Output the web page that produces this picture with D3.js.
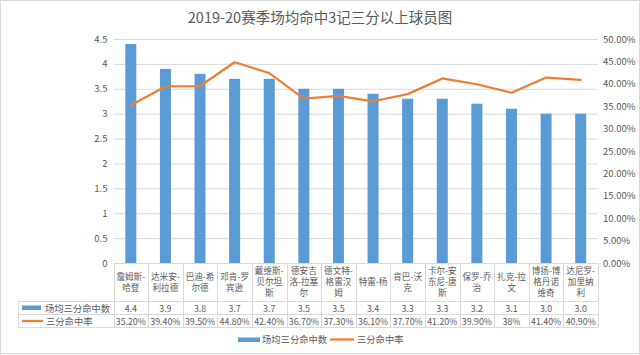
<!DOCTYPE html>
<html><head><meta charset="utf-8">
<script src="https://cdn.jsdelivr.net/npm/d3@7"></script>
<style>
html,body{margin:0;padding:0;background:#fff;}
svg{display:block;font-family:"Noto Sans CJK SC","Noto Sans",sans-serif;}
</style></head>
<body><svg id="c" width="640" height="355"></svg>
<script>
const title = "2019-20赛季场均命中3记三分以上球员图";
const players = ["詹姆斯-哈登","达米安-利拉德","巴迪-希尔德","邓肯-罗宾逊","戴维斯-贝尔坦斯","德安吉洛-拉塞尔","德文特-格雷汉姆","特雷-杨","肯巴-沃克","卡尔-安东尼-唐斯","保罗-乔治","扎克-拉文","博扬-博格丹诺维奇","达尼罗-加里纳利"];
const playerLines = [["詹姆斯-","哈登"],["达米安-","利拉德"],["巴迪-希","尔德"],["邓肯-罗","宾逊"],["戴维斯-","贝尔坦","斯"],["德安吉","洛-拉塞","尔"],["德文特-","格雷汉","姆"],["特雷-杨"],["肯巴-沃","克"],["卡尔-安","东尼-唐","斯"],["保罗-乔","治"],["扎克-拉","文"],["博扬-博","格丹诺","维奇"],["达尼罗-","加里纳","利"]];
const threesMade = [4.4,3.9,3.8,3.7,3.7,3.5,3.5,3.4,3.3,3.3,3.2,3.1,3.0,3.0];
const threePct = [35.2,39.4,39.5,44.8,42.4,36.7,37.3,36.1,37.7,41.2,39.9,38,41.4,40.9];
const pctLabels = ["35.20%","39.40%","39.50%","44.80%","42.40%","36.70%","37.30%","36.10%","37.70%","41.20%","39.90%","38%","41.40%","40.90%"];
const seriesNames = ["场均三分命中数","三分命中率"];
const leftTicks = [0,0.5,1,1.5,2,2.5,3,3.5,4,4.5];
const rightTicks = [0,0.05,0.1,0.15,0.2,0.25,0.3,0.35,0.4,0.45,0.5];

const blue = "#5B9BD5", orange = "#ED7D31", txt = "#595959", grid = "#d9d9d9";
const svg = d3.select("#c");
const L = 113.5, R = 598, T = 39, B = 263;
const tableLeft = 18, row1 = 301, row2 = 314, row3 = 327;

svg.append("rect").attr("x",0.5).attr("y",0.5).attr("width",639).attr("height",353)
  .attr("fill","#fff").attr("stroke",grid);

svg.append("text").attr("x",320).attr("y",23).attr("text-anchor","middle")
  .attr("font-size",14.5).attr("fill",txt).text(title);

const x = d3.scaleBand().domain(players).range([L,R]).paddingInner(0).paddingOuter(0);
const yL = d3.scaleLinear().domain([0,4.5]).range([B,T]);
const yR = d3.scaleLinear().domain([0,0.5]).range([B,T]);

// gridlines
svg.append("g").selectAll("line").data(leftTicks.filter(d=>d>0)).join("line")
  .attr("x1",L).attr("x2",R).attr("y1",d=>yL(d)+0.5).attr("y2",d=>yL(d)+0.5)
  .attr("stroke",grid).attr("stroke-width",1);

// left axis
const axL = svg.append("g").attr("transform",`translate(${L},0)`)
  .call(d3.axisLeft(yL).tickValues(leftTicks).tickFormat(d=>String(d)).tickSize(0).tickPadding(6));
axL.select(".domain").remove();
axL.selectAll("text").attr("fill",txt).attr("font-size",9.5).attr("font-family",'"Noto Sans CJK SC",sans-serif');

// right axis
const axR = svg.append("g").attr("transform",`translate(${R},0)`)
  .call(d3.axisRight(yR).tickValues(rightTicks).tickFormat(d3.format(".2%")).tickSize(0).tickPadding(5));
axR.select(".domain").remove();
axR.selectAll("text").attr("fill",txt).attr("font-size",9.5).attr("font-family",'"Noto Sans CJK SC",sans-serif');

// bars
const bw = 11;
svg.append("g").selectAll("rect").data(players).join("rect")
  .attr("x",(d,i)=>x(d)+x.bandwidth()/2-bw/2).attr("width",bw)
  .attr("y",(d,i)=>yL(threesMade[i])).attr("height",(d,i)=>B-yL(threesMade[i]))
  .attr("fill",blue);

// line
const line = d3.line().x((d,i)=>x(players[i])+x.bandwidth()/2).y(d=>yR(d/100));
svg.append("path").datum(threePct).attr("d",line).attr("fill","none")
  .attr("stroke",orange).attr("stroke-width",2.25).attr("stroke-linejoin","round").attr("stroke-linecap","round");

// table lines
const tg = svg.append("g").attr("stroke",grid).attr("stroke-width",1);
tg.append("line").attr("x1",L).attr("x2",R).attr("y1",B+0.5).attr("y2",B+0.5);
[row1,row2,row3].forEach(yy=>tg.append("line").attr("x1",tableLeft).attr("x2",R).attr("y1",yy+0.5).attr("y2",yy+0.5));
const bounds = players.map(p=>x(p)).concat([R]);
tg.selectAll("line.v").data(bounds).join("line").attr("class","v")
  .attr("x1",d=>Math.round(d)+0.5).attr("x2",d=>Math.round(d)+0.5).attr("y1",B).attr("y2",row3+0.5);
tg.append("line").attr("x1",tableLeft+0.5).attr("x2",tableLeft+0.5).attr("y1",row1).attr("y2",row3+0.5);

// category labels
const lh = 11, midY = (B+row1)/2;
const cg = svg.append("g").attr("fill",txt).attr("font-size",8.6).attr("text-anchor","middle");
players.forEach((p,i)=>{
  const lines = playerLines[i];
  const cx = x(p)+x.bandwidth()/2;
  lines.forEach((s,j)=>{
    const cy = midY + (j-(lines.length-1)/2)*lh;
    cg.append("text").attr("x",cx).attr("y",cy).attr("dy","0.35em").text(s);
  });
});

// table values
const f1 = d3.format(".1f");
const vg = svg.append("g").attr("fill",txt).attr("font-size",8.8).attr("text-anchor","middle");
players.forEach((p,i)=>{
  const cx = x(p)+x.bandwidth()/2;
  vg.append("text").attr("x",cx).attr("y",(row1+row2)/2+1).attr("dy","0.35em").text(f1(threesMade[i]));
  vg.append("text").attr("x",cx).attr("y",(row2+row3)/2+1).attr("dy","0.35em").text(pctLabels[i]);
});

// table legend
svg.append("rect").attr("x",22).attr("y",305.5).attr("width",19).attr("height",4.5).attr("fill",blue);
svg.append("line").attr("x1",22).attr("x2",43).attr("y1",321).attr("y2",321).attr("stroke",orange).attr("stroke-width",2.25);
svg.append("text").attr("x",45).attr("y",(row1+row2)/2+1).attr("dy","0.35em").attr("font-size",9.3).attr("fill",txt).text(seriesNames[0]);
svg.append("text").attr("x",46).attr("y",(row2+row3)/2+1).attr("dy","0.35em").attr("font-size",9.3).attr("fill",txt).text(seriesNames[1]);

// bottom legend
svg.append("rect").attr("x",238).attr("y",337.5).attr("width",22).attr("height",4.5).attr("fill",blue);
svg.append("text").attr("x",262).attr("y",339.5).attr("dy","0.35em").attr("font-size",9.3).attr("fill",txt).text(seriesNames[0]);
svg.append("line").attr("x1",330).attr("x2",354).attr("y1",339.5).attr("y2",339.5).attr("stroke",orange).attr("stroke-width",2.25);
svg.append("text").attr("x",357).attr("y",339.5).attr("dy","0.35em").attr("font-size",9.3).attr("fill",txt).text(seriesNames[1]);
</script></body></html>
